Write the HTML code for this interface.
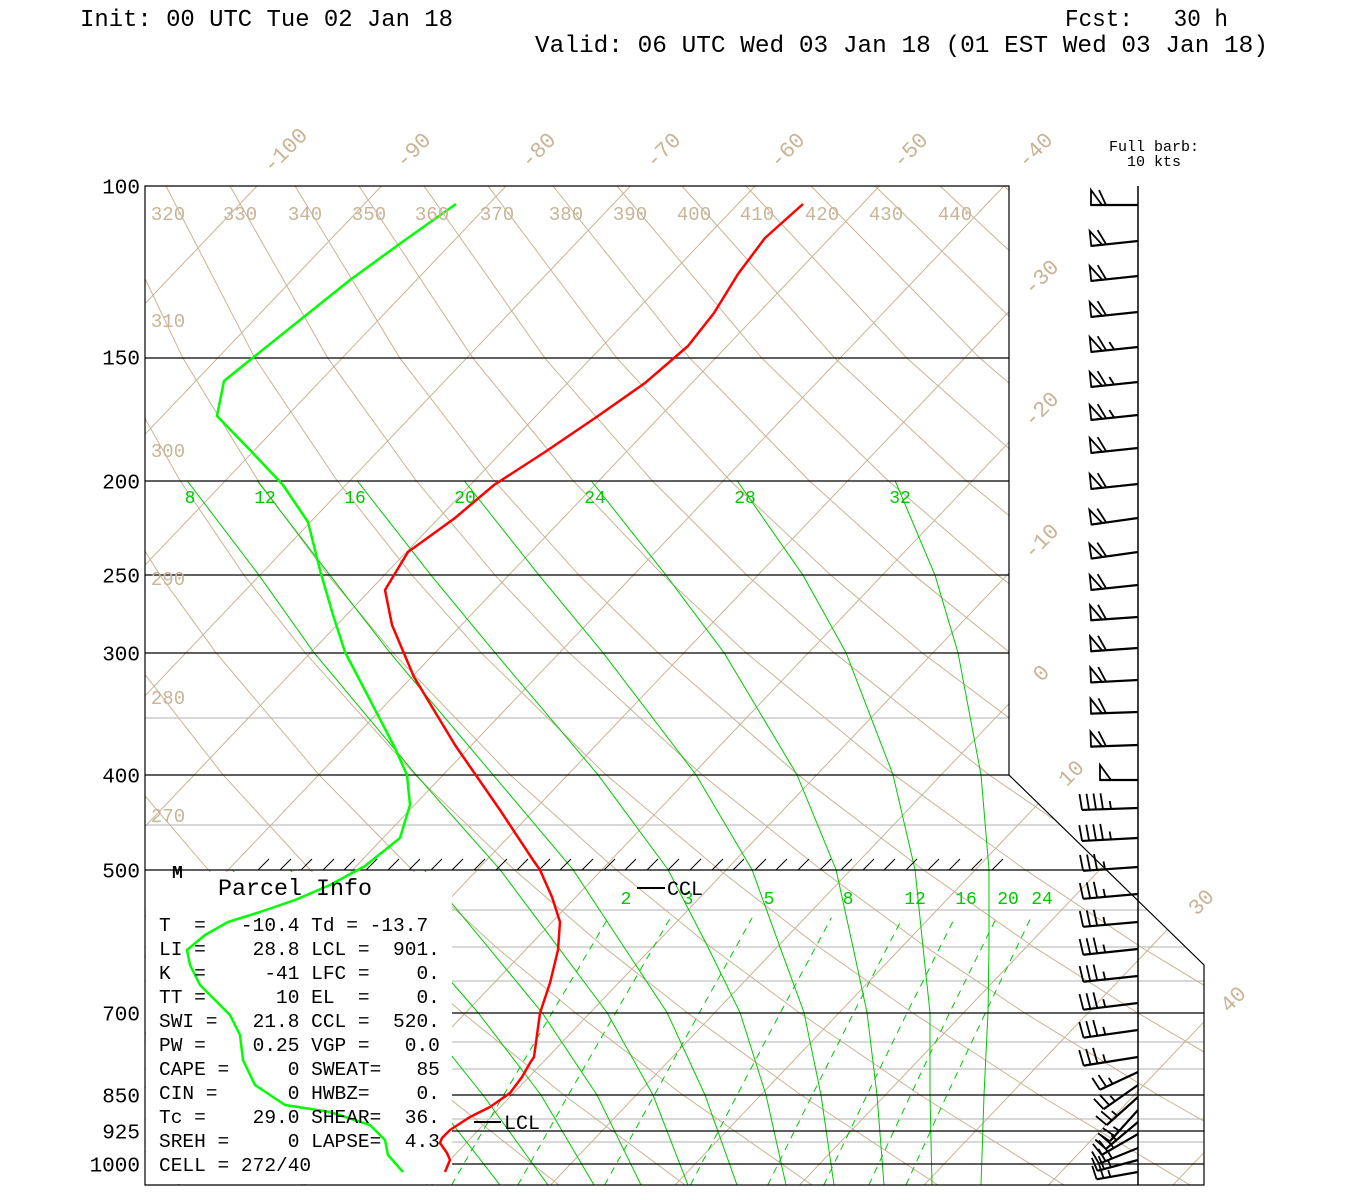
<!DOCTYPE html>
<html><head><meta charset="utf-8">
<style>
html,body{margin:0;padding:0;background:#fff;}
svg{display:block;}
text{font-family:"Liberation Mono",monospace;}
</style></head>
<body>
<svg width="1350" height="1200" viewBox="0 0 1350 1200" xmlns="http://www.w3.org/2000/svg">
<defs>
<clipPath id="box"><polygon points="145,186 1009,186 1009,775 1204,965 1204,1185 145,1185"/></clipPath>
<line id="iso" x1="1502" y1="186" x2="550.6" y2="1185" stroke="#c8b496" stroke-width="1"/>
<g id="bU" stroke="#000" fill="none" stroke-width="1.8">
<line x1="0" y1="0" x2="-47" y2="0" stroke-width="2.2"/>
<polygon points="-47,0 -47,-15 -36,0"/>
<line x1="-32" y1="0" x2="-39" y2="-15"/>
</g>
<g id="bU2" stroke="#000" fill="none" stroke-width="1.8">
<line x1="0" y1="0" x2="-47" y2="0" stroke-width="2.2"/>
<polygon points="-47,0 -47,-15 -36,0"/>
<line x1="-32" y1="0" x2="-39" y2="-15"/>
<line x1="-24" y1="0" x2="-28" y2="-8"/>
</g>
<g id="bP" stroke="#000" fill="none" stroke-width="1.8">
<line x1="0" y1="0" x2="-38" y2="0" stroke-width="2.2"/>
<polygon points="-38,0 -38,-15 -27,0"/>
</g>
<g id="bL" stroke="#000" fill="none" stroke-width="1.8">
<line x1="0" y1="0" x2="-56" y2="0" stroke-width="2.2"/>
<line x1="-56" y1="0" x2="-58" y2="-16"/>
<line x1="-49" y1="0" x2="-51" y2="-16"/>
<line x1="-42" y1="0" x2="-44" y2="-16"/>
<line x1="-35" y1="0" x2="-37" y2="-16"/>
<line x1="-27" y1="0" x2="-28" y2="-8"/>
</g>
<g id="bL3" stroke="#000" fill="none" stroke-width="1.8">
<line x1="0" y1="0" x2="-55" y2="0" stroke-width="2.2"/>
<line x1="-55" y1="0" x2="-57" y2="-16"/>
<line x1="-48" y1="0" x2="-50" y2="-16"/>
<line x1="-41" y1="0" x2="-43" y2="-16"/>
<line x1="-33" y1="0" x2="-34" y2="-8"/>
</g>
<g id="bS" stroke="#000" fill="none" stroke-width="1.8">
<line x1="0" y1="0" x2="-42" y2="0" stroke-width="2.2"/>
<line x1="-42" y1="0" x2="-44" y2="-14"/>
<line x1="-35" y1="0" x2="-37" y2="-14"/>
<line x1="-28" y1="0" x2="-29" y2="-7"/>
</g>
</defs>
<rect width="1350" height="1200" fill="#fff"/>
<g clip-path="url(#box)" fill="none">
<g stroke="#c0c0c0" stroke-width="1.2">
<line x1="145" y1="718" x2="1210" y2="718"/><line x1="145" y1="825" x2="1210" y2="825"/>
<line x1="145" y1="910" x2="1210" y2="910"/><line x1="145" y1="947" x2="1210" y2="947"/>
<line x1="145" y1="981" x2="1210" y2="981"/><line x1="145" y1="1042" x2="1210" y2="1042"/>
<line x1="145" y1="1069" x2="1210" y2="1069"/><line x1="145" y1="1119" x2="1210" y2="1119"/>
<line x1="145" y1="1142" x2="1210" y2="1142"/>
</g>
<use href="#iso" x="-1369.5"/><use href="#iso" x="-1245"/><use href="#iso" x="-1120.5"/>
<use href="#iso" x="-996"/><use href="#iso" x="-871.5"/><use href="#iso" x="-747"/>
<use href="#iso" x="-622.5"/><use href="#iso" x="-498"/><use href="#iso" x="-373.5"/>
<use href="#iso" x="-249"/><use href="#iso" x="-124.5"/><use href="#iso" x="0"/>
<use href="#iso" x="124.5"/><use href="#iso" x="249"/><use href="#iso" x="373.5"/>
<use href="#iso" x="498"/><use href="#iso" x="622.5"/>
<g stroke="#c8b496" stroke-width="1">
<polyline points="180,1185 88,1095 13,1012.5 -42,947.1 -99,869.6 -160,774.8 -225,652.7 -259,575.2 -292,480.5 -324,358.3 -351,186"/>
<polyline points="306,1185 207,1095 125,1012.5 66,947.1 4,869.6 -65,774.8 -137,652.7 -175,575.2 -213,480.5 -252,358.3 -286,186"/>
<polyline points="433,1185 326,1095 237,1012.5 173,947.1 106,869.6 31,774.8 -49,652.7 -91,575.2 -135,480.5 -179,358.3 -221,186"/>
<polyline points="559,1185 445,1095 350,1012.5 281,947.1 208,869.6 127,774.8 40,652.7 -7,575.2 -56,480.5 -107,358.3 -157,186"/>
<polyline points="685,1185 564,1095 462,1012.5 389,947.1 310,869.6 223,774.8 128,652.7 77,575.2 23,480.5 -34,358.3 -92,186"/>
<polyline points="812,1185 683,1095 575,1012.5 496,947.1 412,869.6 319,774.8 216,652.7 160,575.2 101,480.5 38,358.3 -28,186"/>
<polyline points="938,1185 801,1095 687,1012.5 604,947.1 514,869.6 415,774.8 305,652.7 244,575.2 180,480.5 111,358.3 37,186"/>
<polyline points="1064,1185 920,1095 799,1012.5 711,947.1 616,869.6 510,774.8 393,652.7 328,575.2 258,480.5 183,358.3 101,186"/>
<polyline points="1190,1185 1039,1095 912,1012.5 819,947.1 719,869.6 606,774.8 481,652.7 412,575.2 337,480.5 255,358.3 166,186"/>
<polyline points="1316,1185 1158,1095 1024,1012.5 926,947.1 821,869.6 702,774.8 569,652.7 495,575.2 416,480.5 328,358.3 230,186"/>
<polyline points="1443,1185 1277,1095 1137,1012.5 1034,947.1 923,869.6 798,774.8 658,652.7 579,575.2 494,480.5 400,358.3 295,186"/>
<polyline points="1569,1185 1396,1095 1249,1012.5 1141,947.1 1025,869.6 894,774.8 746,652.7 663,575.2 573,480.5 473,358.3 359,186"/>
<polyline points="1695,1185 1514,1095 1362,1012.5 1249,947.1 1127,869.6 989,774.8 834,652.7 747,575.2 652,480.5 545,358.3 424,186"/>
<polyline points="1821,1185 1633,1095 1474,1012.5 1357,947.1 1229,869.6 1085,774.8 922,652.7 831,575.2 730,480.5 617,358.3 488,186"/>
<polyline points="1948,1185 1752,1095 1586,1012.5 1464,947.1 1331,869.6 1181,774.8 1010,652.7 914,575.2 809,480.5 690,358.3 553,186"/>
<polyline points="2074,1185 1871,1095 1699,1012.5 1572,947.1 1433,869.6 1277,774.8 1099,652.7 998,575.2 888,480.5 762,358.3 617,186"/>
<polyline points="2200,1185 1990,1095 1811,1012.5 1679,947.1 1536,869.6 1372,774.8 1187,652.7 1082,575.2 966,480.5 835,358.3 682,186"/>
<polyline points="2326,1185 2109,1095 1924,1012.5 1787,947.1 1638,869.6 1468,774.8 1275,652.7 1166,575.2 1045,480.5 907,358.3 746,186"/>
<polyline points="2453,1185 2228,1095 2036,1012.5 1894,947.1 1740,869.6 1564,774.8 1363,652.7 1249,575.2 1123,480.5 980,358.3 811,186"/>
<polyline points="2579,1185 2347,1095 2148,1012.5 2002,947.1 1842,869.6 1660,774.8 1452,652.7 1333,575.2 1202,480.5 1052,358.3 875,186"/>
<polyline points="2705,1185 2465,1095 2261,1012.5 2110,947.1 1944,869.6 1756,774.8 1540,652.7 1417,575.2 1281,480.5 1124,358.3 940,186"/>
<polyline points="2831,1185 2584,1095 2373,1012.5 2217,947.1 2046,869.6 1851,774.8 1628,652.7 1501,575.2 1359,480.5 1197,358.3 1004,186"/>
</g>
<g stroke="#00c800" stroke-width="1">
<polyline points="500,1185 430,1095 358,1012.5 300,947.1 232,869.6"/>
<polyline points="548,1185 483,1095 417,1012.5 359,947.1 290,869.6"/>
<polyline points="594,1185 541,1095 478,1012.5 421,947.1 355,869.6"/>
<polyline points="641,1185 597,1095 542,1012.5 488,947.1 424,869.6"/>
<polyline points="688,1185 653,1095 607,1012.5 558,947.1 500,869.6 416,774.8 314,652.7 259,575.2 187,480.5"/>
<polyline points="737,1185 705,1095 667,1012.5 624,947.1 573,869.6 493,774.8 390,652.7 330,575.2 257,480.5"/>
<polyline points="786,1185 766,1095 740,1012.5 708,947.1 668,869.6 598,774.8 495,652.7 431,575.2 357,480.5"/>
<polyline points="834,1185 821,1095 804,1012.5 780,947.1 752,869.6 696,774.8 603,652.7 539,575.2 464,480.5"/>
<polyline points="884,1185 877,1095 867,1012.5 853,947.1 836,869.6 797,774.8 724,652.7 666,575.2 591,480.5"/>
<polyline points="932,1185 930,1095 930,1012.5 923,947.1 915,869.6 893,774.8 846,652.7 803,575.2 737,480.5"/>
<polyline points="981,1185 984,1095 988,1012.5 989,947.1 989,869.6 981,774.8 958,652.7 935,575.2 895,480.5"/>
</g>
<g stroke="#00c800" stroke-width="1" stroke-dasharray="7,6">
<polyline points="451.5,1185 503.7,1095 552.2,1012.5 608.4,917.8"/>
<polyline points="517.9,1185 568.4,1095 615.7,1012.5 670.4,917.8"/>
<polyline points="604.6,1185 654.4,1095 699.5,1012.5 752.2,917.8"/>
<polyline points="690.5,1185 737.1,1095 780.5,1012.5 831.4,917.8"/>
<polyline points="767.7,1185 812.3,1095 853.8,1012.5 902.5,917.8"/>
<polyline points="823.8,1185 867,1095 907.2,1012.5 954.8,917.8"/>
<polyline points="868.8,1185 910.6,1095 949.7,1012.5 996.4,917.8"/>
<polyline points="905.9,1185 946.9,1095 985.6,1012.5 1030.8,917.8"/>
</g>
<g stroke="#000" stroke-width="1.2">
<line x1="145" y1="358" x2="1210" y2="358"/><line x1="145" y1="481" x2="1210" y2="481"/>
<line x1="145" y1="575" x2="1210" y2="575"/><line x1="145" y1="653" x2="1210" y2="653"/>
<line x1="145" y1="775" x2="1210" y2="775"/><line x1="145" y1="870" x2="1210" y2="870"/>
</g>
</g>
<rect x="146" y="872" width="306" height="312" fill="#fff"/>
<g stroke="#000" stroke-width="1.2">
<line x1="452" y1="1013" x2="1204" y2="1013"/><line x1="452" y1="1095" x2="1204" y2="1095"/>
<line x1="452" y1="1131" x2="1204" y2="1131"/><line x1="452" y1="1164" x2="1204" y2="1164"/>
</g>
<polygon points="145,186 1009,186 1009,775 1204,965 1204,1185 145,1185" fill="none" stroke="#000" stroke-width="1.2"/>
<g stroke="#000" stroke-width="1">
<line x1="258" y1="870" x2="269" y2="859"/><line x1="280" y1="870" x2="291" y2="859"/><line x1="301" y1="870" x2="312" y2="859"/><line x1="323" y1="870" x2="334" y2="859"/><line x1="344" y1="870" x2="355" y2="859"/><line x1="366" y1="870" x2="377" y2="859"/><line x1="388" y1="870" x2="399" y2="859"/><line x1="409" y1="870" x2="420" y2="859"/><line x1="431" y1="870" x2="442" y2="859"/><line x1="452" y1="870" x2="463" y2="859"/><line x1="474" y1="870" x2="485" y2="859"/><line x1="496" y1="870" x2="507" y2="859"/><line x1="517" y1="870" x2="528" y2="859"/><line x1="539" y1="870" x2="550" y2="859"/><line x1="560" y1="870" x2="571" y2="859"/><line x1="582" y1="870" x2="593" y2="859"/><line x1="604" y1="870" x2="615" y2="859"/><line x1="625" y1="870" x2="636" y2="859"/><line x1="647" y1="870" x2="658" y2="859"/><line x1="668" y1="870" x2="679" y2="859"/><line x1="690" y1="870" x2="701" y2="859"/><line x1="712" y1="870" x2="723" y2="859"/><line x1="733" y1="870" x2="744" y2="859"/><line x1="755" y1="870" x2="766" y2="859"/><line x1="776" y1="870" x2="787" y2="859"/><line x1="798" y1="870" x2="809" y2="859"/><line x1="820" y1="870" x2="831" y2="859"/><line x1="841" y1="870" x2="852" y2="859"/><line x1="863" y1="870" x2="874" y2="859"/><line x1="884" y1="870" x2="895" y2="859"/><line x1="906" y1="870" x2="917" y2="859"/><line x1="928" y1="870" x2="939" y2="859"/><line x1="949" y1="870" x2="960" y2="859"/><line x1="971" y1="870" x2="982" y2="859"/><line x1="992" y1="870" x2="1003" y2="859"/>
</g>
<line x1="1138" y1="186" x2="1138" y2="1185" stroke="#000" stroke-width="1.5"/>
<polyline fill="none" stroke="#ff0000" stroke-width="2.5" stroke-linejoin="round" points="803,204 765,238 738,274 714,313 688,346 645,383 598,416 545,452 494,485 455,518 408,552 385,590 392,625 414,677 455,745 500,810 533,860 540,870 552,897 560,922 558,950 550,983 540,1013 534,1057 530,1063 522,1077 510,1093 490,1107 470,1117 450,1130 442,1138 440,1143 447,1153 450,1160 445,1172"/>
<polyline fill="none" stroke="#00ff00" stroke-width="2.5" stroke-linejoin="round" points="456,204 405,240 350,280 300,320 250,360 224,381 217,416 250,450 283,485 308,522 320,570 333,615 345,652 370,700 395,748 407,775 410,805 400,838 365,866 330,885 295,900 260,912 228,922 205,935 187,950 190,965 200,985 215,1000 230,1015 240,1035 243,1060 255,1085 285,1105 330,1112 370,1125 385,1140 388,1155 403,1172"/>
<use href="#bU" transform="translate(1138,205)"/>
<use href="#bU" transform="translate(1138,241) rotate(-6)"/>
<use href="#bU" transform="translate(1138,276) rotate(-6)"/>
<use href="#bU" transform="translate(1138,312) rotate(-6)"/>
<use href="#bU2" transform="translate(1138,347) rotate(-6)"/>
<use href="#bU2" transform="translate(1138,382) rotate(-6)"/>
<use href="#bU2" transform="translate(1138,415) rotate(-6)"/>
<use href="#bU" transform="translate(1138,448) rotate(-6)"/>
<use href="#bU" transform="translate(1138,484) rotate(-6)"/>
<use href="#bU" transform="translate(1138,518) rotate(-8)"/>
<use href="#bU" transform="translate(1138,552) rotate(-8)"/>
<use href="#bU" transform="translate(1138,585) rotate(-6)"/>
<use href="#bU" transform="translate(1138,617) rotate(-4)"/>
<use href="#bU" transform="translate(1138,648) rotate(-4)"/>
<use href="#bU" transform="translate(1138,680) rotate(-3)"/>
<use href="#bU" transform="translate(1138,712) rotate(-2)"/>
<use href="#bU" transform="translate(1138,745) rotate(-2)"/>
<use href="#bP" transform="translate(1138,780)"/>
<use href="#bL" transform="translate(1138,808) rotate(-2)"/>
<use href="#bL" transform="translate(1138,838) rotate(-3)"/>
<use href="#bL3" transform="translate(1138,867) rotate(-4)"/>
<use href="#bL3" transform="translate(1138,894) rotate(-5)"/>
<use href="#bL3" transform="translate(1138,922) rotate(-5)"/>
<use href="#bL3" transform="translate(1138,949) rotate(-6)"/>
<use href="#bL3" transform="translate(1138,976) rotate(-6)"/>
<use href="#bL3" transform="translate(1138,1003) rotate(-7)"/>
<use href="#bL3" transform="translate(1138,1030) rotate(-8)"/>
<use href="#bL3" transform="translate(1138,1057) rotate(-9)"/>
<use href="#bS" transform="translate(1138,1072) rotate(-25)"/>
<use href="#bS" transform="translate(1138,1085) rotate(-35)"/>
<use href="#bS" transform="translate(1138,1097) rotate(-42)"/>
<use href="#bS" transform="translate(1138,1110) rotate(-48)"/>
<use href="#bS" transform="translate(1138,1122) rotate(-40)"/>
<use href="#bS" transform="translate(1138,1134) rotate(-30)"/>
<use href="#bS" transform="translate(1138,1148) rotate(-22)"/>
<use href="#bS" transform="translate(1138,1160) rotate(-15)"/>
<use href="#bS" transform="translate(1138,1172) rotate(-10)"/>
<g font-size="24" fill="#000">
<text x="80" y="26" textLength="373" lengthAdjust="spacingAndGlyphs">Init: 00 UTC Tue 02 Jan 18</text>
<text x="1065" y="26" textLength="163" lengthAdjust="spacingAndGlyphs" xml:space="preserve">Fcst:   30 h</text>
<text x="535" y="52" textLength="733" lengthAdjust="spacingAndGlyphs">Valid: 06 UTC Wed 03 Jan 18 (01 EST Wed 03 Jan 18)</text>
</g>
<g font-size="15" fill="#000" text-anchor="middle">
<text x="1154" y="151">Full barb:</text>
<text x="1154" y="166">10 kts</text>
</g>
<g font-size="21" fill="#000" text-anchor="end" dominant-baseline="middle">
<text x="140" y="188">100</text><text x="140" y="359">150</text><text x="140" y="483">200</text>
<text x="140" y="577">250</text><text x="140" y="655">300</text><text x="140" y="777">400</text>
<text x="140" y="872">500</text><text x="140" y="1015">700</text><text x="140" y="1097">850</text>
<text x="140" y="1133">925</text><text x="140" y="1166">1000</text>
</g>
<g font-size="19" fill="#c8b496" text-anchor="middle">
<text x="168" y="220">320</text><text x="240" y="220">330</text><text x="305" y="220">340</text>
<text x="369" y="220">350</text><text x="432" y="220">360</text><text x="497" y="220">370</text>
<text x="566" y="220">380</text><text x="630" y="220">390</text><text x="694" y="220">400</text>
<text x="757" y="220">410</text><text x="822" y="220">420</text><text x="886" y="220">430</text>
<text x="955" y="220">440</text>
<text x="168" y="327">310</text><text x="168" y="457">300</text><text x="168" y="585">290</text>
<text x="168" y="704">280</text><text x="168" y="822">270</text>
</g>
<g font-size="22" fill="#c8b496" text-anchor="middle">
<text transform="translate(290,155) rotate(-45)">-100</text>
<text transform="translate(418,155) rotate(-45)">-90</text>
<text transform="translate(543,155) rotate(-45)">-80</text>
<text transform="translate(668,155) rotate(-45)">-70</text>
<text transform="translate(792,155) rotate(-45)">-60</text>
<text transform="translate(915,155) rotate(-45)">-50</text>
<text transform="translate(1040,155) rotate(-45)">-40</text>
<text transform="translate(1046,282) rotate(-45)">-30</text>
<text transform="translate(1046,414) rotate(-45)">-20</text>
<text transform="translate(1046,546) rotate(-45)">-10</text>
<text transform="translate(1046,678) rotate(-45)">0</text>
<text transform="translate(1076,778) rotate(-45)">10</text>
<text transform="translate(1206,907) rotate(-45)">30</text>
<text transform="translate(1238,1004) rotate(-45)">40</text>
</g>
<g font-size="18" fill="#00c800" text-anchor="middle">
<text x="190" y="503">8</text><text x="265" y="503">12</text><text x="355" y="503">16</text>
<text x="465" y="503">20</text><text x="595" y="503">24</text><text x="745" y="503">28</text>
<text x="900" y="503">32</text>
<text x="626" y="904">2</text><text x="688" y="904">3</text><text x="769" y="904">5</text>
<text x="848" y="904">8</text><text x="915" y="904">12</text><text x="966" y="904">16</text>
<text x="1008" y="904">20</text><text x="1042" y="904">24</text>
</g>
<g fill="#000">
<text x="218" y="895" font-size="23" textLength="154" lengthAdjust="spacingAndGlyphs">Parcel Info</text>
<g font-size="19.5">
<text x="159" y="931" xml:space="preserve">T  =   -10.4 Td = -13.7</text>
<text x="159" y="955" xml:space="preserve">LI =    28.8 LCL =  901.</text>
<text x="159" y="979" xml:space="preserve">K  =     -41 LFC =    0.</text>
<text x="159" y="1003" xml:space="preserve">TT =      10 EL  =    0.</text>
<text x="159" y="1027" xml:space="preserve">SWI =   21.8 CCL =  520.</text>
<text x="159" y="1051" xml:space="preserve">PW =    0.25 VGP =   0.0</text>
<text x="159" y="1075" xml:space="preserve">CAPE =     0 SWEAT=   85</text>
<text x="159" y="1099" xml:space="preserve">CIN =      0 HWBZ=    0.</text>
<text x="159" y="1123" xml:space="preserve">Tc =    29.0 SHEAR=  36.</text>
<text x="159" y="1147" xml:space="preserve">SREH =     0 LAPSE=  4.3</text>
<text x="159" y="1171" xml:space="preserve">CELL = 272/40</text>
</g>
<text x="172" y="878" font-size="18" font-weight="bold">M</text>
<text x="667" y="895" font-size="20">CCL</text>
<text x="504" y="1129" font-size="20">LCL</text>
</g>
<line x1="637" y1="888" x2="665" y2="888" stroke="#000" stroke-width="2"/>
<line x1="474" y1="1122" x2="501" y2="1122" stroke="#000" stroke-width="2"/>
</svg>
</body></html>
